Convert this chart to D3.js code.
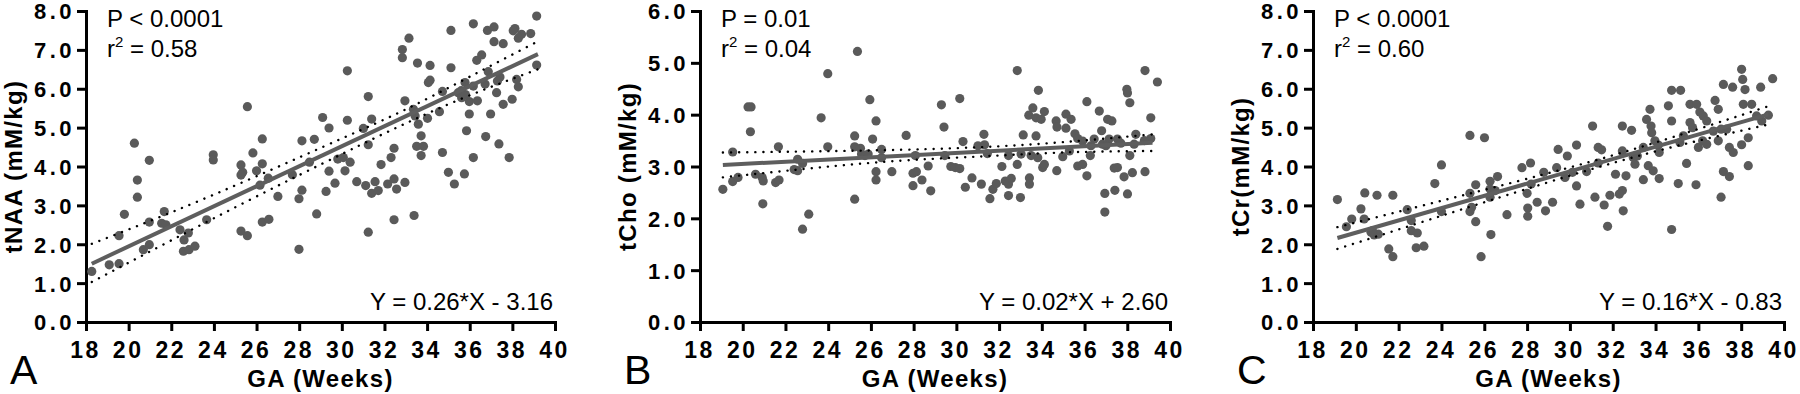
<!DOCTYPE html>
<html>
<head>
<meta charset="utf-8">
<script src="https://cdn.jsdelivr.net/npm/d3@7"></script>
<style>
  body { margin: 0; background: #fff; }
  svg text { font-family: "Liberation Sans", Arial, sans-serif; fill: #000; }
  .x-tick-label { font-weight: bold; font-size: 23px; letter-spacing: 2.5px; }
  .y-tick-label { font-weight: bold; font-size: 22px; letter-spacing: 3.5px; }
  .axis-title { font-weight: bold; font-size: 24px; letter-spacing: 1.3px; }
  .stat { font-size: 24px; }
  .panel-letter { font-size: 41px; }
</style>
</head>
<body>
<svg id="chart" width="1800" height="394"></svg>
<script>
// ===================================================================
// DATA
// ===================================================================
const xTicks = [18, 20, 22, 24, 26, 28, 30, 32, 34, 36, 38, 40];
const yTicks8 = [0, 1, 2, 3, 4, 5, 6, 7, 8];
const yTicks6 = [0, 1, 2, 3, 4, 5, 6];

const panelLetters = ['A', 'B', 'C'];
const yTitles = ['tNAA (mM/kg)', 'tCho (mM/kg)', 'tCr(mM/kg)'];
const pTexts = ['P < 0.0001', 'P = 0.01', 'P < 0.0001'];
const r2Texts = ['0.58', '0.04', '0.60'];
const eqTexts = ['Y = 0.26*X - 3.16', 'Y = 0.02*X + 2.60', 'Y = 0.16*X - 0.83'];

// [GA weeks, concentration]
const tNAA = [
  [18.27,1.30],[19.09,1.47],[19.55,1.50],[19.55,2.22],[19.80,2.77],[20.27,4.60],[20.41,3.65],[20.41,3.21],
  [20.97,4.16],[20.69,1.86],[20.97,1.99],[20.97,2.57],[21.67,2.84],[21.55,2.54],[21.75,2.50],[22.41,2.37],
  [22.80,2.29],[22.60,2.11],[22.57,1.82],[22.83,1.86],[23.11,1.95],[23.66,2.63],[23.97,4.30],[23.97,4.17],
  [25.27,4.04],[25.35,3.85],[25.27,3.78],[25.27,2.34],[25.57,2.22],[25.57,5.54],[25.83,4.35],[26.00,3.89],
  [26.27,4.07],[26.27,4.71],[26.16,3.52],[26.55,3.70],[26.27,2.57],[26.58,2.64],[27.00,3.23],[27.68,3.79],
  [27.99,1.87],[27.99,3.17],[28.13,3.39],[28.13,4.66],[28.71,4.70],[28.48,4.11],[28.82,2.78],
  [29.10,5.26],[29.40,4.99],[29.40,3.88],[29.26,3.36],[29.68,3.57],[30.26,6.46],[30.26,5.19],[29.81,4.19],
  [30.07,4.23],[30.15,3.89],[30.39,4.11],[30.70,3.61],[31.01,4.98],[31.24,5.80],[31.24,4.56],[31.12,3.51],
  [31.40,5.22],[31.40,3.31],[31.56,3.61],[31.71,3.38],[31.24,2.31],[31.84,4.05],[32.15,3.55],[32.31,4.23],
  [32.45,4.47],[32.45,3.68],[32.57,3.42],[32.45,2.63],[32.96,3.59],[32.96,5.69],[32.84,7.01],[32.84,6.80],
  [33.15,7.30],[33.39,2.74],[33.36,5.47],[33.44,5.30],[33.59,5.09],[33.72,4.79],[33.51,4.52],[33.83,4.52],
  [33.72,4.28],[34.02,5.24],[33.55,6.66],[34.14,6.60],[34.14,6.22],[34.06,6.16],[34.58,5.41],[34.72,5.93],
  [34.72,4.36],[35.00,3.85],[35.28,3.55],[35.12,6.54],[35.12,7.50],[35.46,5.90],[35.62,5.77],[35.75,3.81],
  [35.78,6.16],[35.98,5.67],[35.98,5.35],[35.85,4.92],[36.17,4.23],[36.17,7.67],[36.17,6.07],[36.36,5.69],
  [36.33,6.73],[36.56,6.87],[36.72,6.12],[36.75,4.77],[36.83,7.50],[37.14,7.59],[36.98,5.35],[36.87,6.44],
  [37.14,7.21],[37.26,5.90],[37.37,4.58],[37.57,7.16],[37.42,6.30],[37.57,5.60],[37.85,4.23],[37.99,5.73],
  [38.12,7.55],[38.28,7.30],[38.28,6.05],[38.20,6.24],[38.86,7.42],[39.14,7.87],[39.14,6.61],[38.43,7.40],
  [38.04,7.49],[35.60,5.95],[35.80,5.85],[37.30,6.20]
];

const tCho = [
  [19.07,2.56],[19.53,3.28],[19.53,2.71],[19.78,2.79],[20.25,4.15],[20.39,4.15],[20.36,3.67],[20.60,2.85],
  [20.91,2.79],[20.96,2.72],[20.94,2.28],[21.54,2.69],[21.70,2.74],[21.67,3.38],[22.41,2.94],[22.57,3.14],
  [22.57,2.92],[22.80,3.06],[22.80,1.79],[23.09,2.08],[23.67,3.94],[23.98,4.79],[23.98,3.38],[25.24,3.59],
  [25.24,3.38],[25.24,2.37],[25.37,5.22],[25.51,3.35],[25.56,3.24],[25.72,3.21],[25.87,3.24],[25.95,4.29],
  [26.08,3.53],[26.24,3.88],[26.24,2.90],[26.24,2.74],[26.50,3.33],[26.50,3.17],[26.98,2.90],[27.65,3.60],
  [27.97,2.63],[27.97,2.87],[28.13,2.90],[28.08,3.21],[28.39,2.74],[28.68,3.01],[28.80,2.53],
  [29.30,4.19],[29.42,3.76],[29.46,3.21],[29.74,3.00],[29.95,2.98],[30.16,2.96],[30.16,4.31],[30.31,3.48],
  [30.42,2.60],[30.73,2.78],[31.01,3.40],[31.17,2.66],[31.29,3.62],[31.32,3.42],[31.45,3.25],[31.57,2.38],
  [31.71,2.56],[31.87,2.67],[32.13,3.00],[32.29,2.72],[32.44,2.66],[32.57,2.77],[32.44,2.44],[32.44,3.21],
  [32.85,4.85],[32.85,3.04],[33.00,2.40],[33.03,3.24],[33.13,3.61],[33.42,2.78],[33.42,2.66],[33.50,3.21],
  [33.58,4.13],[33.39,3.99],[33.73,3.59],[33.84,4.47],[33.73,3.94],[33.97,3.91],[34.12,4.06],[33.81,3.17],
  [34.04,2.98],[34.12,3.04],[34.70,2.92],[34.67,3.88],[34.71,3.76],[34.98,3.19],[35.13,4.01],[35.13,3.74],
  [35.37,3.91],[35.55,3.63],[35.68,3.54],[35.29,3.30],[35.68,3.01],[35.91,3.04],[36.11,2.82],[36.11,4.25],
  [35.91,3.49],[36.27,3.21],[36.45,3.53],[36.69,4.07],[36.80,3.69],[36.84,3.43],[36.95,2.48],[36.95,2.12],
  [37.08,3.91],[37.28,3.88],[37.15,3.53],[37.42,2.54],[37.39,2.97],[37.54,2.98],[37.54,3.53],[37.85,2.80],
  [37.98,4.49],[38.01,4.42],[38.12,4.23],[38.12,3.21],[38.01,2.47],[38.24,2.88],[38.32,3.43],[38.40,3.62],
  [38.83,4.85],[38.83,2.90],[39.10,3.94],[39.10,3.54],[39.41,4.63],[38.80,3.50],[36.30,3.40],[37.00,3.40],
  [37.70,3.45]
];

const tCr = [
  [19.14,3.15],[19.56,2.45],[19.81,2.65],[20.24,2.91],[20.39,2.65],[20.42,3.32],[20.99,3.26],[20.71,2.31],
  [20.86,2.24],[21.05,2.26],[20.78,2.35],[21.54,1.88],[21.73,1.68],[21.73,3.26],[22.40,2.89],[22.59,2.61],
  [22.59,2.35],[22.87,2.29],[22.82,1.91],[23.18,1.95],[23.69,3.56],[24.00,4.04],[24.00,2.84],[25.33,4.80],
  [25.33,3.31],[25.41,2.95],[25.33,2.84],[25.60,2.58],[25.60,3.53],[25.85,1.68],[26.01,4.74],[26.27,3.62],
  [26.27,3.42],[26.27,3.21],[26.31,2.25],[26.62,3.74],[26.51,3.38],[27.06,2.76],[27.76,3.97],[28.16,4.09],
  [28.00,3.31],[28.03,2.93],[28.03,2.72],[28.19,3.55],[28.47,3.08],[28.78,3.85],[28.86,2.86],
  [29.19,3.08],[29.38,3.97],[29.45,4.44],[29.77,3.72],[29.88,4.27],[30.12,3.85],[30.31,4.55],[30.31,3.50],
  [30.47,3.03],[30.78,3.87],[31.06,5.04],[31.17,3.21],[31.32,4.09],[31.32,4.49],[31.48,4.43],[31.60,3.01],
  [31.76,2.46],[31.87,3.26],[32.13,3.80],[32.45,5.04],[32.45,4.40],[32.45,3.38],[32.49,2.86],[32.62,3.76],
  [32.31,3.29],[32.88,4.93],[32.96,4.23],[33.04,4.06],[33.15,4.27],[33.43,3.66],[33.43,4.49],[33.58,5.21],
  [33.74,5.47],[33.79,5.04],[33.82,4.87],[33.66,4.02],[33.89,3.89],[33.97,4.66],[34.13,4.55],[34.17,3.69],
  [34.17,4.36],[34.60,5.56],[34.75,5.96],[34.75,5.17],[34.75,2.38],[35.06,3.56],[35.17,5.96],[35.14,4.62],
  [35.45,4.08],[35.61,5.60],[35.92,5.60],[35.61,5.13],[35.73,5.00],[35.89,3.53],[36.00,4.49],[36.07,5.40],
  [36.23,5.30],[36.39,5.17],[36.20,4.66],[36.39,4.57],[36.70,4.91],[36.78,5.70],[36.93,5.47],[37.06,4.96],
  [36.93,4.66],[37.06,3.21],[37.17,3.87],[37.45,3.74],[37.17,6.11],[37.60,6.04],[37.32,4.96],[37.45,4.49],
  [37.63,4.36],[38.02,6.50],[38.07,6.24],[38.18,5.98],[38.10,5.60],[38.49,5.60],[38.02,4.56],[38.33,4.74],
  [38.33,4.02],[38.91,6.04],[38.96,5.17],[39.27,5.32],[39.47,6.26],[38.72,5.30],[35.30,4.79]
];

// regression line end points [x, y]
const fitNAA = [[18.27, 1.50], [39.20, 6.89]];
const fitCho = [[19.07, 3.03], [39.18, 3.46]];
const fitCr = [[19.14, 2.16], [39.27, 5.34]];

// 95% confidence band [x, lower, upper]
const bandNAA = [[18.27,1.03,2.01],[22,2.10,2.82],[26,3.23,3.75],[30,4.32,4.72],[33,5.11,5.47],[36,5.83,6.31],[39.2,6.50,7.22]];
const bandCho = [[19.07,2.79,3.27],[26,3.07,3.31],[31,3.19,3.37],[35,3.27,3.47],[39.18,3.30,3.62]];
const bandCr = [[19.14,1.88,2.44],[26,3.08,3.40],[31,3.93,4.13],[35,4.53,4.79],[39.27,5.08,5.55]];

// ===================================================================
const panels = [
  { left: 86, width: 469, yMax: 8, yTicks: yTicks8, points: tNAA, fit: fitNAA, band: bandNAA },
  { left: 700, width: 470, yMax: 6, yTicks: yTicks6, points: tCho, fit: fitCho, band: bandCho },
  { left: 1313, width: 471, yMax: 8, yTicks: yTicks8, points: tCr, fit: fitCr, band: bandCr }
];
const plotTop = 11, plotBottom = 322;
const dotColor = '#5a5a5a';

const svg = d3.select('#chart');

panels.forEach((p, i) => {
  const g = svg.append('g').attr('transform', `translate(${p.left},0)`);

  const x = d3.scaleLinear().domain([18, 40]).range([0, p.width]);
  const y = d3.scaleLinear().domain([0, p.yMax]).range([plotBottom, plotTop]);

  // Axes
  const xAxis = g.append('g')
    .attr('transform', `translate(0,${plotBottom})`)
    .call(d3.axisBottom(x).tickValues(xTicks).tickSize(9).tickSizeOuter(0));
  const yAxis = g.append('g')
    .call(d3.axisLeft(y).tickValues(p.yTicks).tickSize(9).tickSizeOuter(0)
      .tickFormat(d3.format('.1f')));

  [xAxis, yAxis].forEach(a => {
    a.select('.domain').attr('stroke', '#000').attr('stroke-width', 3).attr('stroke-linecap', 'square');
    a.selectAll('.tick line').attr('stroke', '#000').attr('stroke-width', 3);
    a.selectAll('.tick text').attr('fill', '#000');
  });
  xAxis.selectAll('.tick text').attr('class', 'x-tick-label').attr('y', 36).attr('dy', 0).attr('dx', -1);
  yAxis.selectAll('.tick text').attr('class', 'y-tick-label').attr('x', -11).attr('dy', '0.36em');

  // Points
  g.append('g').selectAll('circle')
    .data(p.points)
    .join('circle')
    .attr('cx', d => x(d[0]))
    .attr('cy', d => y(d[1]))
    .attr('r', 4.6)
    .attr('fill', dotColor);

  // Confidence band
  const bandLine = acc => d3.line().x(d => x(d[0])).y(d => y(acc(d))).curve(d3.curveNatural);
  [d => d[1], d => d[2]].forEach(acc => {
    g.append('path')
      .datum(p.band)
      .attr('d', bandLine(acc))
      .attr('fill', 'none')
      .attr('stroke', '#000')
      .attr('stroke-width', 2.4)
      .attr('stroke-linecap', 'round')
      .attr('stroke-dasharray', '0.1,8');
  });

  // Regression line
  g.append('path')
    .datum(p.fit)
    .attr('d', d3.line().x(d => x(d[0])).y(d => y(d[1])))
    .attr('stroke', '#5e5e5e')
    .attr('stroke-width', 4)
    .attr('fill', 'none');

  // Texts
  g.append('text').attr('class', 'stat').attr('x', 21).attr('y', 27).text(pTexts[i]);
  const r2 = g.append('text').attr('class', 'stat').attr('x', 21).attr('y', 57);
  r2.append('tspan').text('r');
  r2.append('tspan').attr('font-size', 15).attr('dy', -10).text('2');
  r2.append('tspan').attr('dy', 10).text(' = ' + r2Texts[i]);

  g.append('text').attr('class', 'stat')
    .attr('x', p.width - 2).attr('y', 310)
    .attr('text-anchor', 'end')
    .text(eqTexts[i]);

  g.append('text').attr('class', 'axis-title')
    .attr('transform', `translate(-73,${(plotTop + plotBottom) / 2}) rotate(-90)`)
    .attr('text-anchor', 'middle')
    .attr('dominant-baseline', 'central')
    .text(yTitles[i]);

  g.append('text').attr('class', 'axis-title')
    .attr('x', p.width / 2).attr('y', 387)
    .attr('text-anchor', 'middle')
    .text('GA (Weeks)');

  g.append('text').attr('class', 'panel-letter')
    .attr('x', -76).attr('y', 384)
    .text(panelLetters[i]);
});
</script>
</body>
</html>
